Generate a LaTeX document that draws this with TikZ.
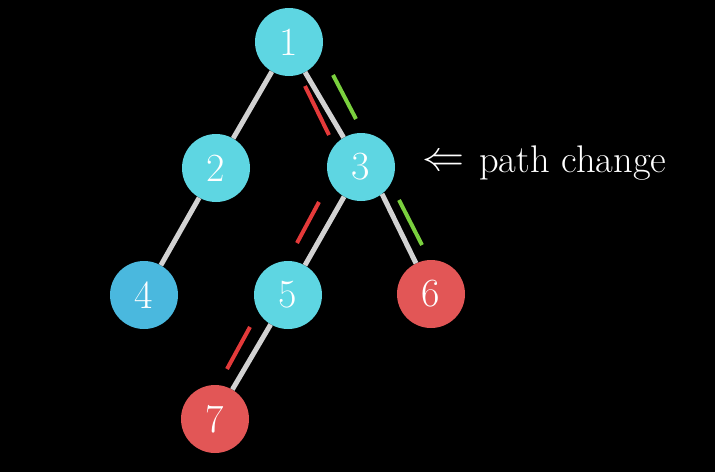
\documentclass[tikz,border=0pt]{standalone}
\usepackage{amssymb}
\begin{document}
\begin{tikzpicture}[x=1pt,y=-1pt,
  vtx/.style={circle,minimum size=68pt,inner sep=0pt,text=white,font=\fontsize{40}{48}\selectfont},
  cyannode/.style={vtx,fill=cyanc},
  bluenode/.style={vtx,fill=bluec},
  rednode/.style={vtx,fill=redc},
  edge/.style={draw=edgec,line width=5pt},
  redmark/.style={draw=markred,line width=4pt},
  greenmark/.style={draw=markgreen,line width=4pt}]
\definecolor{cyanc}{RGB}{94,214,226}
\definecolor{bluec}{RGB}{74,184,222}
\definecolor{redc}{RGB}{226,86,86}
\definecolor{edgec}{RGB}{210,210,210}
\definecolor{markred}{RGB}{228,58,58}
\definecolor{markgreen}{RGB}{122,208,62}
\fill[black] (0,0) rectangle (715,472);
\useasboundingbox (0,0) rectangle (715,472);
\node[cyannode] (n1) at (289,42) {1};
\node[cyannode] (n2) at (216,168) {2};
\node[cyannode] (n3) at (361,167) {3};
\node[bluenode] (n4) at (144,295) {4};
\node[cyannode] (n5) at (288,295) {5};
\node[rednode] (n6) at (431,294) {6};
\node[rednode] (n7) at (215,419) {7};
\draw[edge] (n1) -- (n2);
\draw[edge] (n1.-62) -- (n3);
\draw[edge] (n2) -- (n4);
\draw[edge] (n3) -- (n5);
\draw[edge] (n3.-52) -- (n6);
\draw[edge] (n5) -- (n7);
\draw[redmark] (305,86) -- (329,135);
\draw[greenmark] (333,75) -- (356,119);
\draw[redmark] (319,202) -- (297,243);
\draw[greenmark] (399,200) -- (422,245);
\draw[redmark] (250,327) -- (227,369);
\node[anchor=base west,text=white,font=\fontsize{38.5}{46}\selectfont,inner sep=0pt] (lbl) at (422,172) {\raisebox{2pt}{\resizebox{42pt}{!}{$\Leftarrow$}}\hspace{15pt}path change};
\end{tikzpicture}
\end{document}
